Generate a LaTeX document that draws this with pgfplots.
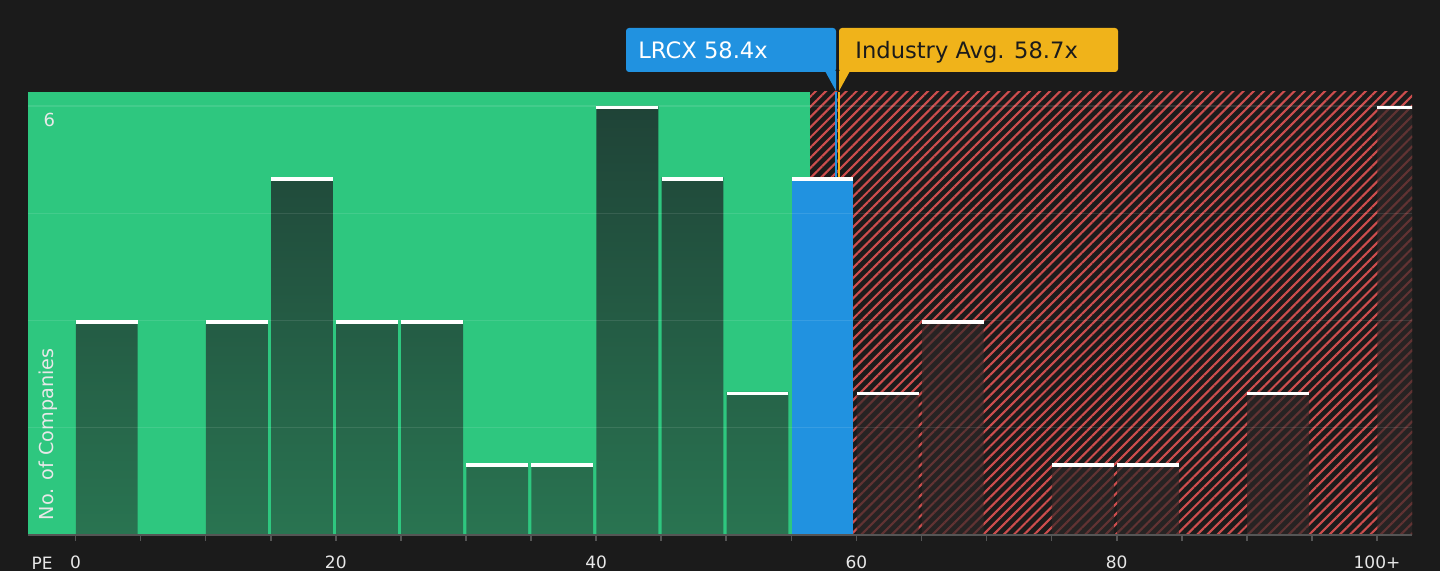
\documentclass[border=0pt]{standalone}
\usepackage{fontspec}
\setmainfont{DejaVu Sans}
\usepackage{pgfplots}
\pgfplotsset{compat=1.18}
\usetikzlibrary{patterns.meta}
\definecolor{bg}{HTML}{1B1B1B}
\definecolor{gr}{HTML}{2EC77F}
\definecolor{bl}{HTML}{2192E0}
\definecolor{yl}{HTML}{F0B31A}
\definecolor{rd}{HTML}{CE4E4E}
\definecolor{bartop}{HTML}{1F4337}
\definecolor{barbot}{HTML}{297451}
\definecolor{redbar}{HTML}{2E2727}
\definecolor{axgray}{HTML}{555555}
\definecolor{txt}{HTML}{E8E8E8}
\begin{document}
\begin{tikzpicture}
\fill[bg] (0,0) rectangle (720pt,285.5pt);
\begin{axis}[
  at={(14pt,18pt)}, anchor=south west,
  scale only axis, width=692pt, height=221.65pt,
  xmin=-3.65, xmax=102.69, ymin=0, ymax=6.2,
  axis on top,
  axis x line*=bottom, axis y line*=left,
  x axis line style={draw=axgray, line width=1pt},
  y axis line style={draw=none},
  xtick={0,20,40,60,80,100},
  xticklabels={0,20,40,60,80,100+},
  minor xtick={5,10,...,95},
  x tick style={draw=axgray, line width=0.8pt},
  major tick length=3pt, minor tick length=3pt,
  tick align=outside,
  ytick={1.5,3,4.5,6}, yticklabels={},
  y tick style={draw=none},
  ymajorgrids, grid style={white, opacity=0.1, line width=0.6pt},
  xticklabel style={font=\fontsize{8.5}{10}\selectfont, text=txt, anchor=base, yshift=-14pt},
  clip marker paths=true,
]
\fill[gr] (axis cs:-3.65,0) rectangle (axis cs:56.45,6.2);
\fill[pattern={Lines[angle=45,distance=3.6pt,line width=1.05pt]}, pattern color=rd] (axis cs:56.45,0) rectangle (axis cs:102.69,6.2);
\addplot[ybar, bar width=4.75, bar shift=0pt, draw=none, top color=bartop, bottom color=barbot]
  coordinates {(2.4,3) (12.4,3) (17.4,5) (22.4,3) (27.4,3) (32.4,1) (37.4,1) (42.4,6) (47.4,5) (52.4,2)};
\addplot[ybar, bar width=4.75, bar shift=0pt, draw=none, fill=bl]
  coordinates {(57.4,5)};
\addplot[ybar, bar width=4.75, bar shift=0pt, draw=none, fill=redbar, fill opacity=0.68]
  coordinates {(62.4,2) (67.4,3) (77.4,1) (82.4,1) (92.4,2) (102.4,6)};
\addplot[only marks, mark=-, mark size=15.45pt, mark options={white, line width=1.6pt, yshift=-0.8pt}]
  coordinates {(2.4,3) (12.4,3) (17.4,5) (22.4,3) (27.4,3) (32.4,1) (37.4,1) (42.4,6) (47.4,5) (52.4,2)
  (57.4,5) (62.4,2) (67.4,3) (77.4,1) (82.4,1) (92.4,2) (102.4,6)};
\addplot[bl, line width=1pt] coordinates {(58.4,5) (58.4,6.2)};
\addplot[yl, line width=1pt] coordinates {(58.7,5) (58.7,6.2)};
\node[text=txt, font=\fontsize{9}{10}\selectfont] at (axis cs:-2.0,5.8) {6};
\node[text=txt, rotate=90, font=\fontsize{9.6}{11}\selectfont] at (axis cs:-2.1,1.41) {No. of Companies};
\end{axis}
% annotation boxes
\fill[bl, rounded corners=1.5pt] (313pt,249.5pt) rectangle (418pt,271.5pt);
\fill[bl] (412.5pt,250pt) -- (418pt,250pt) -- (418pt,240pt) -- cycle;
\node[anchor=base west, inner sep=0pt, text=white, font=\fontsize{11.3}{13}\selectfont] at (319pt,256.4pt) {LRCX 58.4x};
\fill[yl, rounded corners=1.5pt] (419.5pt,249.5pt) rectangle (559pt,271.5pt);
\fill[yl] (419.5pt,250pt) -- (419.5pt,240pt) -- (425pt,250pt) -- cycle;
\node[anchor=base west, inner sep=0pt, text=bg, font=\fontsize{11.3}{13}\selectfont] at (427.5pt,256.4pt) {Industry Avg. 58.7x};
\node[anchor=base, inner sep=0pt, text=txt, font=\fontsize{8.5}{10}\selectfont] at (21pt,0.85pt) {PE};
\pgfresetboundingbox
\path (0,0) rectangle (720pt,285.5pt);
\end{tikzpicture}
\end{document}
